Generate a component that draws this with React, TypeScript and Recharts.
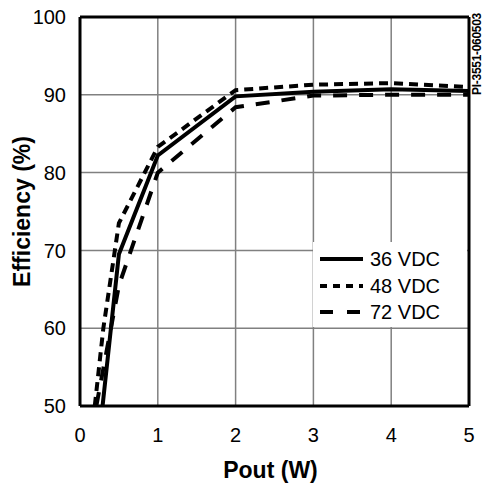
import React from 'react'
import { LineChart, Line, XAxis, YAxis, CartesianGrid, ReferenceLine, Legend } from 'recharts'

// Pout in W, efficiency in %
const pout36 = [0.29, 0.5, 1, 2, 3, 4, 5]
const eff36 = [50, 69.5, 82.2, 89.8, 90.4, 90.7, 90.5]

const pout48 = [0.19, 0.3, 0.5, 1, 2, 3, 4, 5]
const eff48 = [50, 60, 73.5, 83.3, 90.6, 91.3, 91.5, 91.0]

const pout72 = [0.21, 0.5, 1, 2, 3, 4, 5]
const eff72 = [50, 65.5, 80, 88.4, 89.9, 90.0, 90.0]

const xTicks = [0, 1, 2, 3, 4, 5]
const yTicks = [50, 60, 70, 80, 90, 100]

const seriesNames = ['36 VDC', '48 VDC', '72 VDC']

const toPoints = (xs: number[], ys: number[]) => xs.map((x, i) => ({ pout: x, eff: ys[i] }))

const FONT = '"Liberation Sans", Arial, Helvetica, sans-serif'

const lineStyles = [
  { dash: undefined, legendDash: undefined },
  { dash: '9 6', legendDash: '7 6' },
  { dash: '14 12', legendDash: '13 14' },
]

const renderLegend = () => (
  <div style={{ padding: '4px 0 0 7px' }}>
    {seriesNames.map((name, i) => (
      <div key={name} style={{ display: 'flex', alignItems: 'center', height: 26.5 }}>
        <svg width={43} height={10} style={{ marginRight: 7 }}>
          <line x1={0} y1={5} x2={43} y2={5} stroke="#000" strokeWidth={4} strokeDasharray={lineStyles[i].legendDash} />
        </svg>
        <span style={{ fontFamily: FONT, fontSize: 20, color: '#000', lineHeight: '20px' }}>{name}</span>
      </div>
    ))}
  </div>
)

export default function App() {
  const tickStyle = { fontFamily: FONT, fontSize: 20, fill: '#000' }
  const series = [toPoints(pout36, eff36), toPoints(pout48, eff48), toPoints(pout72, eff72)]

  return (
    <div style={{ position: 'absolute', left: 0, top: 0, width: 483, height: 484, background: '#fff', overflow: 'hidden' }}>
      <LineChart width={483} height={484} margin={{ top: 17, right: 14, bottom: 0, left: 0 }}>
        <CartesianGrid stroke="#808080" strokeWidth={1.5} />
        <XAxis
          type="number"
          dataKey="pout"
          domain={[0, 5]}
          ticks={xTicks}
          axisLine={false}
          tickLine={false}
          tickSize={0}
          tickMargin={22}
          height={78}
          tick={tickStyle}
          allowDuplicatedCategory={false}
          label={{ value: 'Pout (W)', position: 'insideBottom', offset: 6, dx: -4, style: { fontFamily: FONT, fontSize: 23, fontWeight: 'bold', fill: '#000' } }}
        />
        <YAxis
          type="number"
          dataKey="eff"
          domain={[50, 100]}
          ticks={yTicks}
          axisLine={false}
          tickLine={false}
          tickSize={0}
          tickMargin={14}
          width={80}
          tick={tickStyle}
          label={{ value: 'Efficiency (%)', angle: -90, position: 'insideLeft', offset: 22, style: { fontFamily: FONT, fontSize: 23, fontWeight: 'bold', fill: '#000', textAnchor: 'middle' } }}
        />
        {series.map((d, i) => (
          <Line
            key={seriesNames[i]}
            data={d}
            dataKey="eff"
            name={seriesNames[i]}
            type="linear"
            stroke="#000"
            strokeWidth={4}
            strokeDasharray={lineStyles[i].dash}
            dot={false}
            activeDot={false}
            isAnimationActive={false}
          />
        ))}
        <ReferenceLine y={100} stroke="#000" strokeWidth={3} />
        <ReferenceLine y={50} stroke="#000" strokeWidth={3} />
        <ReferenceLine x={0} stroke="#000" strokeWidth={3} />
        <ReferenceLine x={5} stroke="#000" strokeWidth={3} />
        <Legend
          layout="vertical"
          align="center"
          verticalAlign="middle"
          content={renderLegend}
          wrapperStyle={{ position: 'absolute', left: 313, top: 242, width: 154, height: 85, background: '#fff' }}
        />
      </LineChart>
      <div
        style={{
          position: 'absolute',
          left: 471,
          top: 13,
          writingMode: 'vertical-rl',
          transform: 'rotate(180deg)',
          fontFamily: FONT,
          fontSize: 12,
          lineHeight: '12px',
          fontWeight: 'bold',
          color: '#000',
          letterSpacing: -0.3,
        }}
      >
        PI-3551-060503
      </div>
    </div>
  )
}
